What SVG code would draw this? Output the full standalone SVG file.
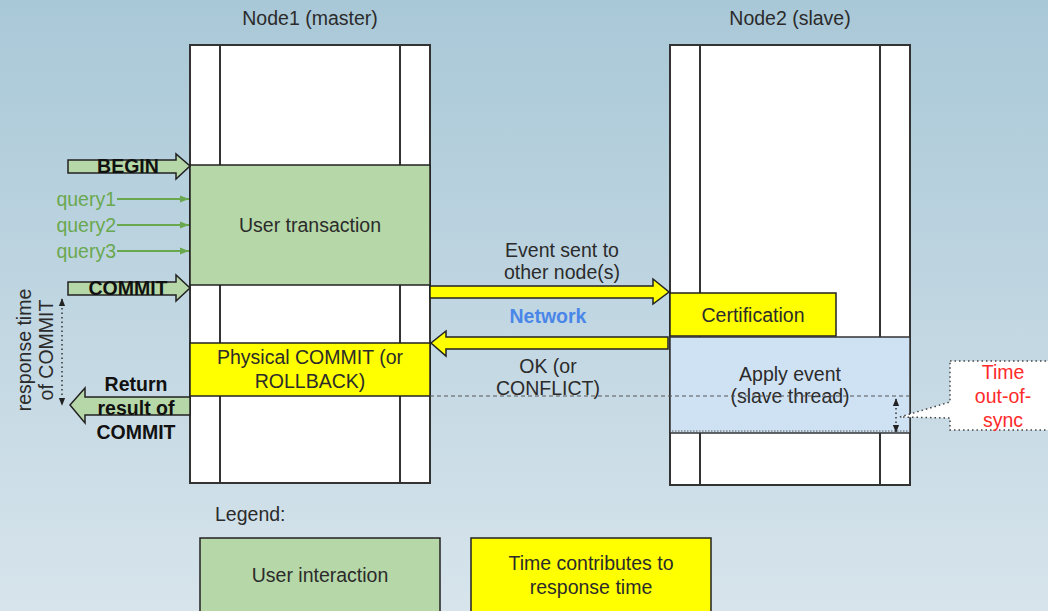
<svg xmlns="http://www.w3.org/2000/svg" width="1048" height="611" viewBox="0 0 1048 611">
  <defs>
    <linearGradient id="bg" x1="0" y1="0" x2="0" y2="1">
      <stop offset="0" stop-color="#a9c8d7"/>
      <stop offset="1" stop-color="#d7e4ec"/>
    </linearGradient>
    <marker id="qhead" viewBox="0 0 10 10" refX="10" refY="5" markerUnits="userSpaceOnUse" markerWidth="9" markerHeight="9" orient="auto">
      <path d="M0,1 L10,5 L0,9 Z" fill="#6aa84f"/>
    </marker>
    <marker id="dhead" viewBox="0 0 10 10" refX="9" refY="5" markerUnits="userSpaceOnUse" markerWidth="8" markerHeight="8" orient="auto-start-reverse">
      <path d="M0,1 L10,5 L0,9 Z" fill="#222"/>
    </marker>
  </defs>
  <style>
    text { font-family: "Liberation Sans", Arial, sans-serif; font-size: 19.5px; fill: #2b2b2b; text-anchor: middle; }
    .b { font-weight: bold; fill: #111; }
    .q { fill: #6aa84f; text-anchor: end; }
    .lane { fill: #ffffff; stroke: #333; stroke-width: 2; }
    .rail { stroke: #333; stroke-width: 2; }
    .green { fill: #b6d7a8; stroke: #222; stroke-width: 1.5; }
    .yellow { fill: #ffff00; stroke: #222; stroke-width: 1.5; }
    .blue { fill: #cfe2f3; stroke: #333; stroke-width: 1.5; }
    .dash { stroke: #555; stroke-width: 1; stroke-dasharray: 4 3; fill: none; }
    .dot { stroke: #333; stroke-width: 1.5; stroke-dasharray: 1.5 3; fill: none; }
  </style>

  <rect width="1048" height="611" fill="url(#bg)"/>

  <!-- Node1 lane -->
  <g id="node1">
    <text x="310" y="25">Node1 (master)</text>
    <rect class="lane" x="190" y="45" width="240" height="438"/>
    <line class="rail" x1="220" y1="45" x2="220" y2="483"/>
    <line class="rail" x1="400" y1="45" x2="400" y2="483"/>
  </g>

  <!-- Node2 lane -->
  <g id="node2">
    <text x="790" y="25">Node2 (slave)</text>
    <rect class="lane" x="670" y="45" width="240" height="440"/>
    <line class="rail" x1="700" y1="45" x2="700" y2="485"/>
    <line class="rail" x1="880" y1="45" x2="880" y2="485"/>
  </g>

  <g id="user-transaction">
    <rect class="green" x="190" y="165" width="240" height="120"/>
    <text x="310" y="232">User transaction</text>
  </g>

  <g id="physical-commit">
    <rect class="yellow" x="190" y="343" width="240" height="53"/>
    <text x="310" y="364">Physical COMMIT (or</text>
    <text x="310" y="388">ROLLBACK)</text>
  </g>

  <g id="certification">
    <rect class="yellow" x="670" y="293" width="166" height="43"/>
    <text x="753" y="322">Certification</text>
  </g>

  <g id="apply-event">
    <rect class="blue" x="670" y="337" width="240" height="96"/>
    <line x1="672" y1="431" x2="908" y2="431" stroke="#555" stroke-width="1" stroke-dasharray="1.5 1.5"/>
    <text x="790" y="381">Apply event</text>
    <text x="790" y="403">(slave thread)</text>
  </g>

  <g id="time-out-of-sync">
    <path d="M950,361 H1060 V430 H950 V418 L900,417 L950,402 Z" fill="#ffffff" stroke="#444" stroke-width="1.5" stroke-dasharray="1.5 3"/>
    <text x="1003" y="379" style="fill:#ff2a2a">Time</text>
    <text x="1003" y="403" style="fill:#ff2a2a">out-of-</text>
    <text x="1003" y="427" style="fill:#ff2a2a">sync</text>
  </g>

  <g id="connectors">
    <!-- BEGIN -->
    <path class="green" d="M68,160 H176 V154 L190,166 L176,179 V173 H68 Z"/>
    <text class="b" x="128" y="173">BEGIN</text>

    <!-- queries -->
    <line x1="117" y1="199" x2="189" y2="199" stroke="#6aa84f" stroke-width="2" marker-end="url(#qhead)"/>
    <line x1="117" y1="225" x2="189" y2="225" stroke="#6aa84f" stroke-width="2" marker-end="url(#qhead)"/>
    <line x1="117" y1="251" x2="189" y2="251" stroke="#6aa84f" stroke-width="2" marker-end="url(#qhead)"/>
    <text class="q" x="116" y="206">query1</text>
    <text class="q" x="116" y="232">query2</text>
    <text class="q" x="116" y="258">query3</text>

    <!-- COMMIT -->
    <path class="green" d="M68,282 H176 V275 L190,288 L176,301 V295 H68 Z"/>
    <text class="b" x="128" y="295">COMMIT</text>

    <!-- Return result of COMMIT -->
    <path class="green" d="M190,397 H85 V388 L70,405 L85,423 V415 H190 Z"/>
    <text class="b" x="136" y="391">Return</text>
    <text class="b" x="136" y="415">result of</text>
    <text class="b" x="136" y="439">COMMIT</text>

    <!-- response time span -->
    <line class="dot" x1="62" y1="299" x2="62" y2="405" marker-start="url(#dhead)" marker-end="url(#dhead)"/>
    <text transform="translate(31,350) rotate(-90)">response time</text>
    <text transform="translate(53,350) rotate(-90)">of COMMIT</text>

    <!-- Event sent to other node(s) -->
    <path class="yellow" d="M430,286 H653 V279 L669,292 L653,304 V298 H430 Z"/>
    <text x="562" y="257">Event sent to</text>
    <text x="562" y="279">other node(s)</text>

    <text class="b" x="548" y="323" style="fill:#4a86e8">Network</text>

    <!-- OK (or CONFLICT) -->
    <path class="yellow" d="M668,337 H446 V331 L431,343 L446,356 V349 H668 Z"/>
    <text x="548" y="373">OK (or</text>
    <text x="548" y="395">CONFLICT)</text>

    <!-- commit moment on slave -->
    <line class="dash" x1="430" y1="396" x2="913" y2="396"/>
    <line class="dot" x1="896" y1="399" x2="896" y2="432" marker-start="url(#dhead)" marker-end="url(#dhead)"/>
  </g>

  <!-- Legend -->
  <g id="legend">
    <text x="215" y="521" style="text-anchor:start">Legend:</text>
    <rect class="green" x="200" y="538" width="240" height="80"/>
    <text x="320" y="582">User interaction</text>
    <rect class="yellow" x="471" y="538" width="240" height="80"/>
    <text x="591" y="570">Time contributes to</text>
    <text x="591" y="594">response time</text>
  </g>
</svg>
